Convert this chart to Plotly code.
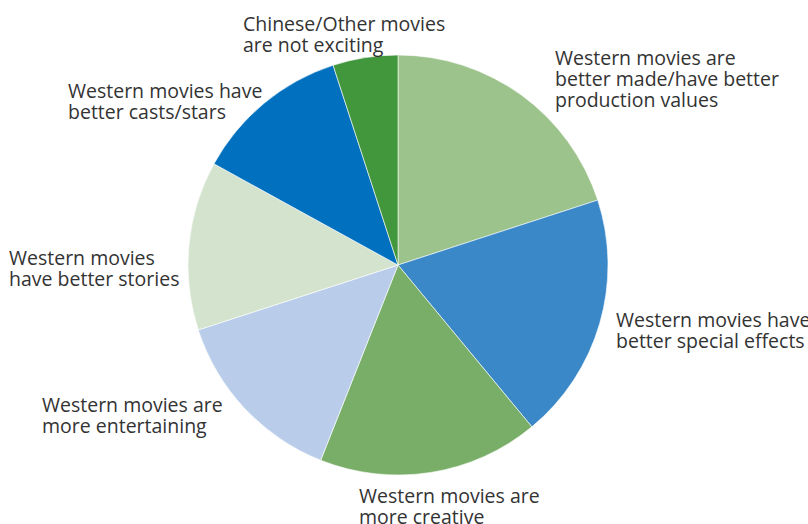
import plotly.graph_objects as go

W, H = 808, 524

categories = [
    "Western movies are<br>better made/have better<br>production values",
    "Western movies have<br>better special effects",
    "Western movies are<br>more creative",
    "Western movies are<br>more entertaining",
    "Western movies<br>have better stories",
    "Western movies have<br>better casts/stars",
    "Chinese/Other movies<br>are not exciting",
]
values = [20, 19, 17, 14, 13, 12, 5]

colors = ["#9cc38b", "#3a88c8", "#79ae68", "#b9cdeb", "#d4e3cd", "#0070bf", "#42963c"]
# label positions in pixels: left x, baseline of first line
label_pos = [(554, 64), (615, 326), (358, 502), (41, 411), (8, 264), (67, 97), (242, 30)]
LINE_GAP = 21
FONT_SIZE = 19.5

cx, cy, r = 398, 265, 210

fig = go.Figure(go.Pie(
    labels=[c.replace("<br>", " ") for c in categories],
    values=values,
    sort=False,
    direction="clockwise",
    rotation=0,
    textinfo="none",
    hoverinfo="label+value",
    marker=dict(colors=colors, line=dict(color="white", width=0.6)),
    domain=dict(x=[(cx - r) / W, (cx + r) / W], y=[(H - cy - r) / H, (H - cy + r) / H]),
    showlegend=False,
))

for lab, (px, py) in zip(categories, label_pos):
    for i, line in enumerate(lab.split("<br>")):
        base = py + i * LINE_GAP
        fig.add_annotation(
            text=line, x=px / W, y=1 - (base - 6.5) / H, xref="paper", yref="paper",
            xanchor="left", yanchor="middle", align="left", showarrow=False,
            borderpad=0,
            font=dict(family="Open Sans, Liberation Sans, sans-serif", size=FONT_SIZE, color="#333333"),
        )

fig.update_layout(
    width=W, height=H,
    margin=dict(l=0, r=0, t=0, b=0),
    paper_bgcolor="white",
    plot_bgcolor="white",
)

fig.write_html(
    "out.html",
    config={"displayModeBar": False},
    post_script="document.body.style.margin='0';document.body.style.overflow='hidden';",
)
